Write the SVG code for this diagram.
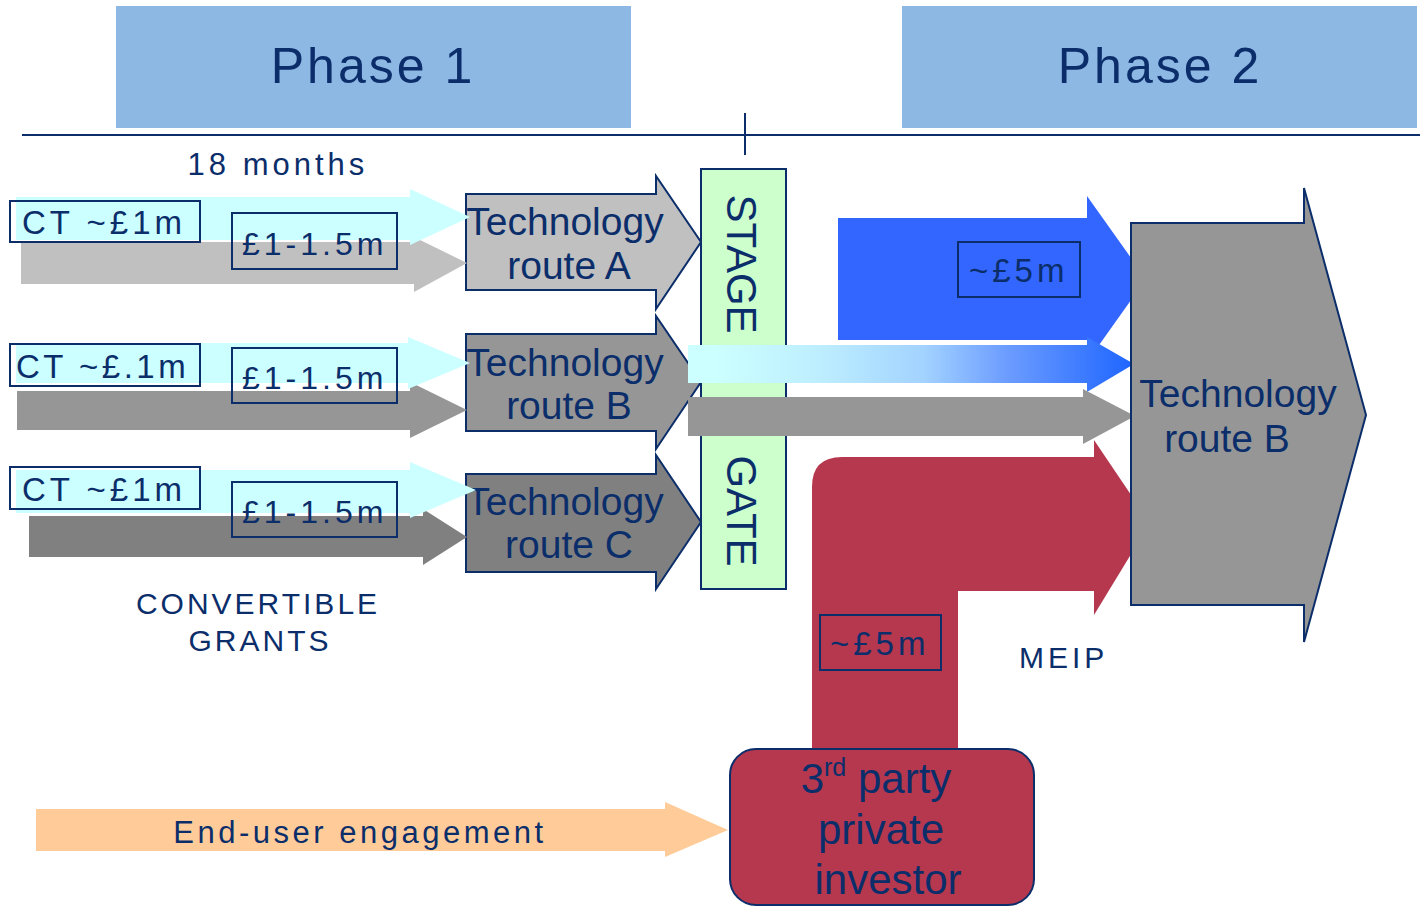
<svg xmlns="http://www.w3.org/2000/svg" width="1420" height="906" viewBox="0 0 1420 906">
<defs>
<linearGradient id="gradCB" gradientUnits="userSpaceOnUse" x1="715" y1="0" x2="1132" y2="0">
<stop offset="0" stop-color="#CCFFFF"/>
<stop offset="0.25" stop-color="#BDEEFF"/>
<stop offset="0.5" stop-color="#A3D3FF"/>
<stop offset="0.7" stop-color="#6C9CFF"/>
<stop offset="1" stop-color="#1F66FF"/>
</linearGradient>
</defs>
<style>
.t{font-family:"Liberation Sans",Arial,sans-serif;fill:#0B2E6B}
.hdr{fill:#8EB8E4}
.nd{stroke:#0B2E6B;stroke-width:2;stroke-linejoin:miter}
.lbl{fill:none;stroke:#0B2E6B;stroke-width:2}
</style>
<rect width="1420" height="906" fill="#FFFFFF"/>

<g id="phase1">
<rect class="hdr" x="116" y="6" width="515" height="122"/>
<text class="t" x="373" y="83" font-size="50" text-anchor="middle" letter-spacing="3">Phase 1</text>
</g>
<g id="phase2">
<rect class="hdr" x="902" y="6" width="515" height="122"/>
<text class="t" x="1160" y="83" font-size="50" text-anchor="middle" letter-spacing="3">Phase 2</text>
</g>

<g id="timeline">
<line x1="22" y1="135" x2="1420" y2="135" stroke="#0B2E6B" stroke-width="2"/>
<line x1="745" y1="113" x2="745" y2="155" stroke="#0B2E6B" stroke-width="2"/>
<text class="t" x="278" y="175" font-size="31" text-anchor="middle" letter-spacing="4">18 months</text>
</g>

<g id="route-a">
<polygon class="nd" fill="#C0C0C0" points="466,194 656,194 656,176 701,242 656,309 656,290 466,290"/>
<text class="t" x="565" y="235" font-size="39" text-anchor="middle">Technology</text>
<text class="t" x="569" y="279" font-size="39" text-anchor="middle">route A</text>
</g>
<g id="route-b">
<polygon class="nd" fill="#969696" points="466,334 656,334 656,316 701,382 656,449 656,431 466,431"/>
<text class="t" x="565" y="376" font-size="39" text-anchor="middle">Technology</text>
<text class="t" x="569" y="419" font-size="39" text-anchor="middle">route B</text>
</g>
<g id="route-c">
<polygon class="nd" fill="#808080" points="466,474 656,474 656,455 701,522 656,589 656,572 466,572"/>
<text class="t" x="565" y="515" font-size="39" text-anchor="middle">Technology</text>
<text class="t" x="569" y="558" font-size="39" text-anchor="middle">route C</text>
</g>

<g id="stage-gate">
<rect class="nd" fill="#CCFFCC" x="701" y="169" width="85" height="420"/>
<text class="t" font-size="42" text-anchor="middle" transform="translate(727,264) rotate(90)">STAGE</text>
<text class="t" font-size="42" text-anchor="middle" transform="translate(727,511) rotate(90)">GATE</text>
</g>

<g id="connectors">
<polygon fill="#C0C0C0" points="21,242 414,242 414,237 467,263 414,292 414,284 21,284"/>
<polygon fill="#CCFFFF" points="16,197 410,197 410,189 470,217 410,245 410,240 16,240"/>
<polygon fill="#969696" points="17,391 410,391 410,382 467,410 410,438 410,430 17,430"/>
<polygon fill="#CCFFFF" points="16,343 408,343 408,337 470,363 408,389 408,383 16,383"/>
<polygon fill="#808080" points="29,516 423,516 423,509 467,537 423,565 423,557 29,557"/>
<polygon fill="#CCFFFF" points="16,470 410,470 410,462 476,490 410,518 410,513 16,513"/>
<polygon fill="#3366FF" points="838,218 1087,218 1087,196 1146,279 1087,362 1087,340 838,340"/>
<path fill="#B5384E" d="M812,748 L812,487 Q812,457 842,457 L1094,457 L1094,440 L1150,523 L1094,615 L1094,591 L958,591 L958,748 Z"/>
<polygon fill="url(#gradCB)" points="688,345 1087,345 1087,337 1134,364 1087,392 1087,383 688,383"/>
<polygon fill="#969696" points="688,397 1083,397 1083,389 1135,416 1083,444 1083,436 688,436"/>
<polygon fill="#FFCC99" points="36,809 665,809 665,802 728,830 665,857 665,851 36,851"/>
</g>

<g id="labels">
<rect class="lbl" x="10" y="201" width="190" height="41"/>
<text class="t" x="22" y="234" font-size="33" letter-spacing="4">CT ~£1m</text>
<rect class="lbl" x="232" y="213" width="165" height="56"/>
<text class="t" x="242" y="255" font-size="32" letter-spacing="4">£1-1.5m</text>
<rect class="lbl" x="10" y="344" width="190" height="42"/>
<text class="t" x="16" y="378" font-size="33" letter-spacing="3.5">CT ~£.1m</text>
<rect class="lbl" x="232" y="348" width="165" height="55"/>
<text class="t" x="242" y="389" font-size="32" letter-spacing="4">£1-1.5m</text>
<rect class="lbl" x="10" y="467" width="190" height="42"/>
<text class="t" x="22" y="501" font-size="33" letter-spacing="4">CT ~£1m</text>
<rect class="lbl" x="232" y="482" width="165" height="55"/>
<text class="t" x="242" y="523" font-size="32" letter-spacing="4">£1-1.5m</text>
<rect class="lbl" x="958" y="242" width="122" height="55"/>
<text class="t" x="969" y="282" font-size="33" letter-spacing="4">~£5m</text>
<rect class="lbl" x="820" y="615" width="121" height="55"/>
<text class="t" x="830" y="655" font-size="33" letter-spacing="4">~£5m</text>
<text class="t" x="1019" y="668" font-size="30" letter-spacing="4">MEIP</text>
<text class="t" x="258" y="614" font-size="30" text-anchor="middle" letter-spacing="3">CONVERTIBLE</text>
<text class="t" x="260" y="651" font-size="30" text-anchor="middle" letter-spacing="3">GRANTS</text>
<text class="t" x="360" y="843" font-size="31" text-anchor="middle" letter-spacing="3.5">End-user engagement</text>
</g>

<g id="route-b-phase2">
<polygon class="nd" fill="#969696" points="1131,223 1304,223 1304,188 1366,415 1304,642 1304,605 1131,605"/>
<text class="t" x="1238" y="407" font-size="39" text-anchor="middle">Technology</text>
<text class="t" x="1227" y="452" font-size="39" text-anchor="middle">route B</text>
</g>

<g id="investor">
<rect class="nd" fill="#B5384E" x="730" y="749" width="304" height="156" rx="26" ry="26"/>
<text class="t" x="876" y="793" font-size="42" text-anchor="middle">3<tspan font-size="25" dy="-17">rd</tspan><tspan dy="17"> party</tspan></text>
<text class="t" x="881" y="844" font-size="42" text-anchor="middle">private</text>
<text class="t" x="888" y="894" font-size="42" text-anchor="middle">investor</text>
</g>
</svg>
